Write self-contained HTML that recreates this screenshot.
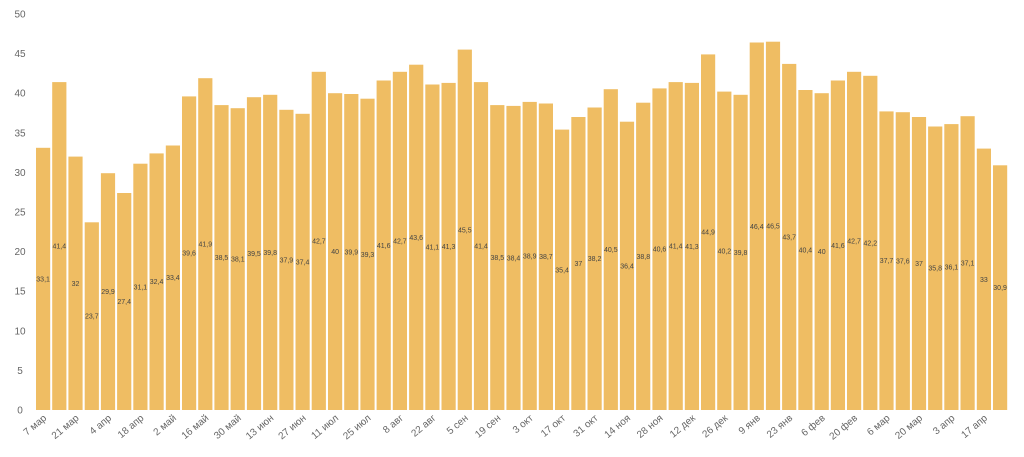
<!DOCTYPE html>
<html><head><meta charset="utf-8"><style>
html,body{margin:0;padding:0;background:#fff;width:1024px;height:457px;overflow:hidden}
svg text{font-family:"Liberation Sans",sans-serif}
</style></head><body>
<svg id="c" width="1024" height="457" xmlns="http://www.w3.org/2000/svg"></svg>
<script>
var v=[33.1,41.4,32,23.7,29.9,27.4,31.1,32.4,33.4,39.6,41.9,38.5,38.1,39.5,39.8,37.9,37.4,42.7,40,39.9,39.3,41.6,42.7,43.6,41.1,41.3,45.5,41.4,38.5,38.4,38.9,38.7,35.4,37,38.2,40.5,36.4,38.8,40.6,41.4,41.3,44.9,40.2,39.8,46.4,46.5,43.7,40.4,40,41.6,42.7,42.2,37.7,37.6,37,35.8,36.1,37.1,33,30.9];
var L=["7 мар","21 мар","4 апр","18 апр","2 май","16 май","30 май","13 июн","27 июн","11 июл","25 июл","8 авг","22 авг","5 сен","19 сен","3 окт","17 окт","31 окт","14 ноя","28 ноя","12 дек","26 дек","9 янв","23 янв","6 фев","20 фев","6 мар","20 мар","3 апр","17 апр"];
var s="",y0=410,k=7.92,x0=36,st=16.22;
for(var t=0;t<=50;t+=5){var y=y0-t*k;s+='<text x="20" y="'+(y+3.5)+'" font-size="10" fill="#666" text-anchor="middle">'+t+'</text>';}
for(var i=0;i<v.length;i++){var x=x0+i*st,h=v[i]*k;
s+='<rect x="'+x.toFixed(1)+'" y="'+(y0-h).toFixed(1)+'" width="'+(st-2).toFixed(1)+'" height="'+h.toFixed(1)+'" fill="#efbd63"/>';
s+='<text x="'+(x+(st-2)/2).toFixed(1)+'" y="'+(y0-h/2+2.5).toFixed(1)+'" font-size="7" fill="#444" text-anchor="middle">'+String(v[i]).replace(".",",")+'</text>';}
for(var j=0;j<L.length;j++){var cx=x0+j*2*st+(st-2)/2+4,cy=419;
s+='<text transform="translate('+cx.toFixed(1)+','+cy+') rotate(-40)" font-size="10" fill="#666" text-anchor="end">'+L[j]+'</text>';}
document.getElementById("c").innerHTML=s;
</script>
</body></html>
